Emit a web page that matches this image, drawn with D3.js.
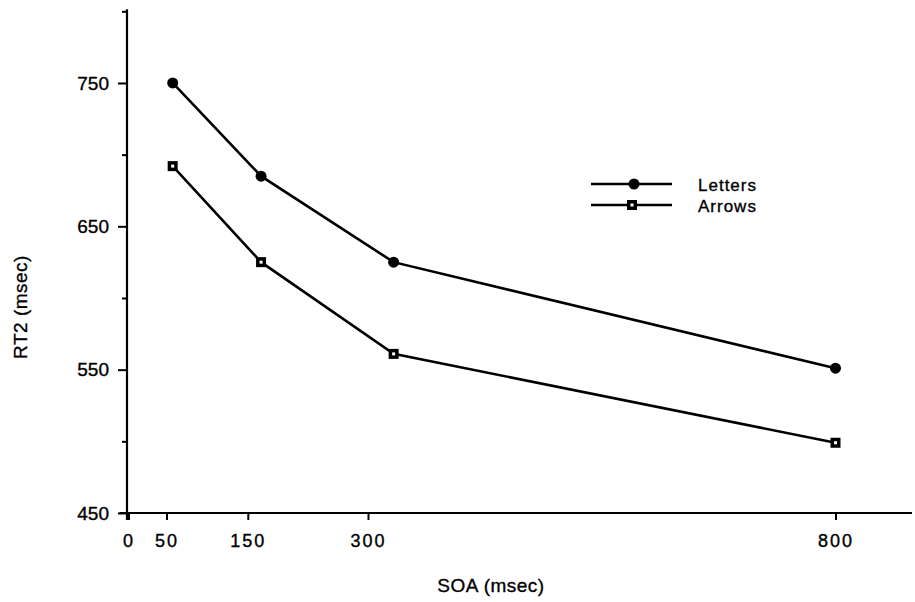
<!DOCTYPE html>
<html>
<head>
<meta charset="utf-8">
<script src="https://cdn.jsdelivr.net/npm/d3@7"></script>
<style>
  body { margin: 0; background: #fff; }
  svg { font-family: "Liberation Sans", Arial, Helvetica, sans-serif; }
  svg text { fill: #000; stroke: #000; stroke-width: 0.35px; }
  .axis path { display: none; }
  .axis line { stroke: #000; stroke-width: 2; }
</style>
</head>
<body>
<svg id="draw" width="915" height="602"></svg>
<script>
// data ----------------------------------------------------------------------
var soa = [50, 150, 300, 800];
var letters = [750, 685, 625, 551];
var arrows = [692, 625, 561, 499];
var seriesNames = ["Letters", "Arrows"];
// x ticks sit off the data positions in the original figure
var xTickAt = [0, 43, 135, 271, 800];
var xTickLabels = ["0", "50", "150", "300", "800"];
var yMajor = [450, 550, 650, 750];
var yMinor = [500, 600, 700, 800];

// ---------------------------------------------------------------------------
var w = 915, h = 602;
var svg = d3.select("#draw");

var x = d3.scaleLinear().domain([0, 800]).range([128.5, 835.5]);
var y = d3.scaleLinear().domain([450, 800]).range([513, 11.3]);

// axes
svg.append("line")
    .attr("x1", x(0) - 1.5).attr("x2", x(0) - 1.5)
    .attr("y1", y(800) - 2).attr("y2", y(450) + 7)
    .attr("stroke", "#000").attr("stroke-width", 2.2);
svg.append("line")
    .attr("x1", x(0) - 9).attr("x2", 912)
    .attr("y1", y(450)).attr("y2", y(450))
    .attr("stroke", "#000").attr("stroke-width", 2.2);

var yAxis = svg.append("g")
    .attr("class", "axis")
    .attr("transform", "translate(" + (x(0) - 1.5) + ",0)")
    .call(d3.axisLeft(y).tickValues(yMajor).tickSize(9).tickPadding(9));
yAxis.selectAll("text").style("font-size", "19px");

svg.append("g")
    .attr("class", "axis")
    .attr("transform", "translate(" + (x(0) - 1.5) + ",0)")
    .call(d3.axisLeft(y).tickValues(yMinor).tickSize(5).tickFormat(""));

var xAxis = svg.append("g")
    .attr("class", "axis")
    .attr("transform", "translate(0," + y(450) + ")")
    .call(d3.axisBottom(x).tickValues(xTickAt).tickSize(7).tickPadding(14)
        .tickFormat((d, i) => xTickLabels[i]));
xAxis.selectAll("text").style("font-size", "18px").style("letter-spacing", "2px");

// axis titles
svg.append("text")
    .attr("x", 491).attr("y", 592)
    .attr("text-anchor", "middle")
    .style("font-size", "19px")
    .style("letter-spacing", "0.5px")
    .text("SOA (msec)");
svg.append("text")
    .attr("transform", "translate(27,307) rotate(-90)")
    .attr("text-anchor", "middle")
    .style("font-size", "19px")
    .style("letter-spacing", "0.5px")
    .text("RT2 (msec)");

// lines
var line = d3.line().x((d, i) => x(soa[i])).y(d => y(d));
[letters, arrows].forEach(function (vals) {
    svg.append("path")
        .datum(vals)
        .attr("d", line)
        .attr("fill", "none")
        .attr("stroke", "#000")
        .attr("stroke-width", 2.6);
});

function filledMark(g) {
    g.append("path")
        .attr("d", d3.symbol(d3.symbolCircle, 95)())
        .attr("fill", "#000");
}
function squareMark(g) {
    g.append("rect").attr("x", -5).attr("y", -5).attr("width", 10).attr("height", 10)
        .attr("fill", "#000");
    g.append("rect").attr("x", -1.5).attr("y", -1.5).attr("width", 3).attr("height", 3)
        .attr("fill", "#fff");
}

svg.selectAll("g.mk-letters")
    .data(letters)
    .enter().append("g")
    .attr("class", "mk-letters")
    .attr("transform", (d, i) => "translate(" + x(soa[i]) + "," + y(d) + ")")
    .each(function () { filledMark(d3.select(this)); });

svg.selectAll("g.mk-arrows")
    .data(arrows)
    .enter().append("g")
    .attr("class", "mk-arrows")
    .attr("transform", (d, i) => "translate(" + x(soa[i]) + "," + y(d) + ")")
    .each(function () { squareMark(d3.select(this)); });

// legend
var legend = svg.append("g").attr("transform", "translate(591,184)");
seriesNames.forEach(function (name, i) {
    var g = legend.append("g").attr("transform", "translate(0," + i * 21 + ")");
    g.append("line").attr("x1", 0).attr("x2", 81).attr("y1", 0).attr("y2", 0)
        .attr("stroke", "#000").attr("stroke-width", 2.6);
    var m = g.append("g").attr("transform", "translate(" + (i ? 41 : 43) + ",0)");
    if (i) squareMark(m); else filledMark(m);
    g.append("text").attr("x", 107).attr("y", 6.5)
        .style("font-size", "17px")
        .style("letter-spacing", "1px")
        .text(name);
});
</script>
</body>
</html>
